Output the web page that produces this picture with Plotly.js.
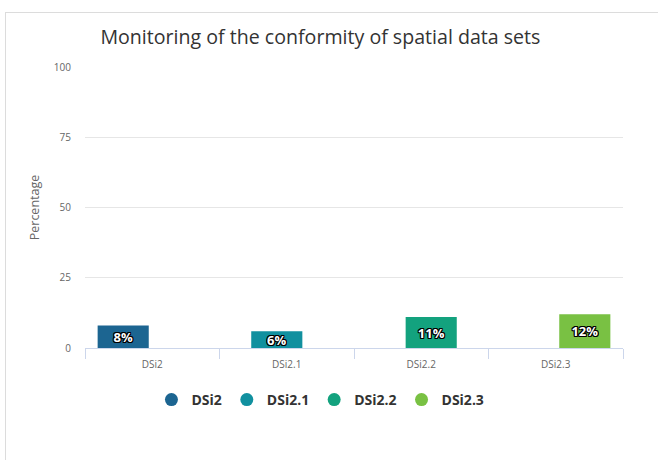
<!DOCTYPE html>
<html>
<head>
<meta charset="utf-8">
<script src="https://cdn.plot.ly/plotly-3.0.1.min.js"></script>
<style>
html,body{margin:0;padding:0;background:#fff;}
#frame{position:absolute;left:5px;top:12px;width:700px;height:500px;border-left:1px solid #dcdcdc;border-top:1px solid #dcdcdc;}
#chart{position:absolute;left:0;top:0;width:658px;height:460px;}
</style>
</head>
<body>
<div id="frame"></div>
<div id="chart"></div>
<script>
const categories = ['DSi2', 'DSi2.1', 'DSi2.2', 'DSi2.3'];
const seriesNames = ['DSi2', 'DSi2.1', 'DSi2.2', 'DSi2.3'];
const seriesValues = [8, 6, 11, 12];
const colors = ['#1c6591', '#11909f', '#13a27e', '#79c143'];
const yTicks = [0, 25, 50, 75, 100];

const barWidth = 0.38;
const slotOffsets = [-0.406, -0.264, -0.116, 0.026];
const outline = '1px 1px 0 #000, -1px -1px 0 #000, 1px -1px 0 #000, -1px 1px 0 #000, 0 1px 0 #000, 0 -1px 0 #000, 1px 0 0 #000, -1px 0 0 #000';

const traces = [];
seriesNames.forEach((name, i) => {
  traces.push({
    type: 'bar',
    name: name,
    x: [categories[i]],
    y: [seriesValues[i]],
    width: barWidth,
    offset: slotOffsets[i],
    marker: {color: colors[i]},
    texttemplate: '%{y}%',
    textposition: 'inside',
    insidetextanchor: 'middle',
    constraintext: 'none',
    textfont: {family: 'Open Sans, sans-serif', size: 13, color: '#fff', weight: 'bold', shadow: outline},
    showlegend: false,
    hoverinfo: 'x+y'
  });
});
seriesNames.forEach((name, i) => {
  traces.push({
    type: 'scatter',
    mode: 'markers',
    name: name,
    x: [null],
    y: [null],
    marker: {color: colors[i], size: 13, symbol: 'circle'},
    showlegend: true
  });
});

const layout = {
  width: 658,
  height: 460,
  margin: {l: 85, r: 35, t: 67, b: 112},
  paper_bgcolor: 'rgba(0,0,0,0)',
  plot_bgcolor: 'rgba(0,0,0,0)',
  font: {family: 'Open Sans, sans-serif', color: '#666'},
  title: {
    text: 'Monitoring of the conformity of spatial data sets',
    font: {family: 'Open Sans, sans-serif', size: 19.6, color: '#333'},
    xref: 'container', x: 0.487, xanchor: 'center',
    yref: 'container', y: 1 - 37/460, yanchor: 'middle'
  },
  barmode: 'group',
  xaxis: {
    type: 'category',
    categoryorder: 'array',
    categoryarray: categories,
    range: [-0.5, 3.5],
    showgrid: false,
    showline: true,
    linecolor: '#ccd6eb',
    linewidth: 1,
    ticks: 'outside',
    tickson: 'boundaries',
    ticklen: 10,
    tickcolor: '#ccd6eb',
    ticklabelstandoff: 7,
    tickfont: {size: 10, color: '#666'},
    zeroline: false,
    fixedrange: true
  },
  yaxis: {
    range: [0, 100],
    tickvals: yTicks,
    ticktext: yTicks.map(String),
    showgrid: true,
    gridcolor: '#e6e6e6',
    zeroline: false,
    showline: false,
    ticks: '',
    ticklabelstandoff: 13,
    tickfont: {size: 10, color: '#666'},
    title: {text: 'Percentage', font: {size: 12.5, color: '#666'}, standoff: 11},
    automargin: false,
    fixedrange: true
  },
  legend: {
    orientation: 'h',
    xref: 'container', x: 0.487, xanchor: 'center',
    yref: 'container', y: 1 - 400/460, yanchor: 'middle',
    font: {family: 'Open Sans, sans-serif', size: 14, color: '#333', weight: 'bold'},
    itemwidth: 30,
    tracegroupgap: 0,
    bgcolor: 'rgba(0,0,0,0)'
  },
  showlegend: true
};

Plotly.newPlot('chart', traces, layout, {displayModeBar: false, responsive: false});
</script>
</body>
</html>
